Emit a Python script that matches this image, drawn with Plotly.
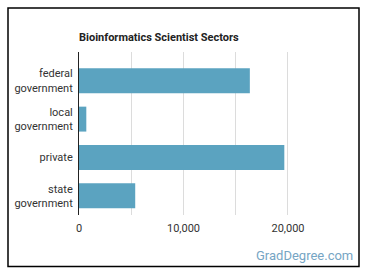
import plotly.graph_objects as go

categories = ["federal<br>government", "local<br>government", "private", "state<br>government"]
values = [16350, 700, 19650, 5380]
x_ticks = [0, 10000, 20000]
x_tick_labels = ["0", "10,000", "20,000"]

W, H = 370, 278
L, R, T, B = 79, 335, 52, 215
pw, ph = R - L, B - T

def px(x):
    return (x - L) / pw

def py(y):
    return (B - y) / ph

fig = go.Figure(go.Bar(
    x=values, y=categories, orientation="h",
    marker=dict(color="#5ba3c0", line=dict(width=0)),
    width=0.65, hoverinfo="skip",
))

fig.update_layout(
    width=W, height=H,
    margin=dict(l=L, r=W - R, t=T, b=H - B),
    paper_bgcolor="white", plot_bgcolor="white",
    font=dict(family="Roboto", size=11, color="#333"),
    showlegend=False,
    title=dict(text="<b>Bioinformatics Scientist Sectors</b>", xref="container", yref="container",
               x=L / W, xanchor="left", y=1 - 37 / H, yanchor="middle",
               font=dict(family="Roboto", size=11, color="#222")),
    xaxis=dict(range=[0, 24500], tickvals=x_ticks, ticktext=x_tick_labels,
               showgrid=True, gridcolor="#dcdcdc", gridwidth=1,
               minor=dict(dtick=5000, showgrid=True, gridcolor="#dcdcdc", gridwidth=1, tick0=0),
               zeroline=False, showline=False, ticks="", ticklabelstandoff=5, fixedrange=True,
               tickfont=dict(size=11, color="#333")),
    yaxis=dict(categoryorder="array", categoryarray=categories, range=[3.5, -0.75],
               showgrid=False, zeroline=False, showline=True, linecolor="#222", linewidth=1,
               ticks="", ticklabelstandoff=3, tickfont=dict(size=11, color="#333"), fixedrange=True),
    shapes=[
        dict(type="rect", xref="paper", yref="paper", x0=px(8), x1=px(359), y0=py(8), y1=py(266.5),
             line=dict(color="black", width=1.5), fillcolor="rgba(0,0,0,0)", layer="above"),
    ],
    annotations=[
        dict(text="GradDegree.com", xref="paper", yref="paper", x=px(355), y=py(255),
             xanchor="right", yanchor="middle", showarrow=False,
             font=dict(family="Roboto", size=13, color="#76a5c4")),
    ],
)

fig.write_html("out.html", config={"displayModeBar": False})
